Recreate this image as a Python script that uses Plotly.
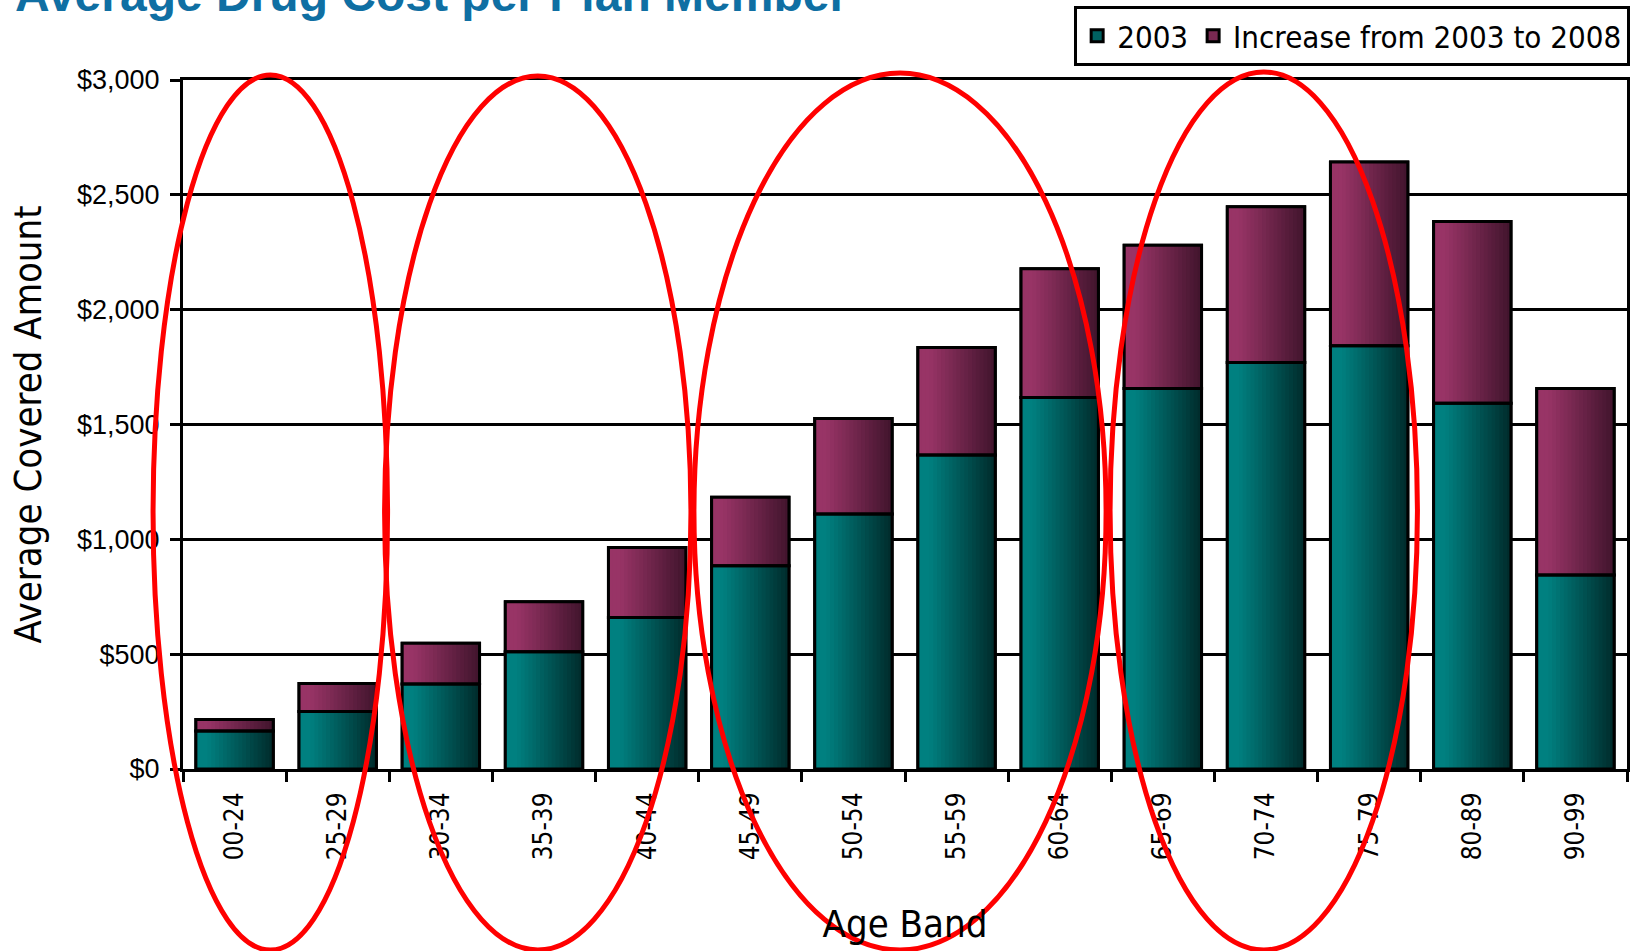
import plotly.graph_objects as go

# ---------------- data ----------------
age_bands = ["00-24", "25-29", "30-34", "35-39", "40-44", "45-49", "50-54",
             "55-59", "60-64", "65-69", "70-74", "75-79", "80-89", "90-99"]
cost_2003 = [165, 250, 370, 510, 660, 885, 1110, 1367, 1618, 1657, 1770, 1843, 1592, 845]
increase_2003_2008 = [50, 122, 178, 218, 304, 298, 416, 468, 560, 624, 678, 800, 792, 812]
series_names = ["2003", "Increase from 2003 to 2008"]
y_tick_values = [0, 500, 1000, 1500, 2000, 2500, 3000]
y_tick_labels = ["$0", "$500", "$1,000", "$1,500", "$2,000", "$2,500", "$3,000"]

title_text = "Average Drug Cost per Plan Member"
x_title = "Age Band"
y_title = "Average Covered Amount"

# ---------------- layout constants ----------------
W_PX, H_PX = 1632, 951
L, R, T, B = 183, 2, 80, 182
PLOT_W = W_PX - L - R
PLOT_H = H_PX - T - B

def px_x(px):
    return (px - L) / PLOT_W

def px_y(py):
    return (H_PX - B - py) / PLOT_H

TAHOMA = "DejaVu Sans Condensed, Noto Sans, DejaVu Sans, sans-serif"

BAR_W = 0.75
N_STRIPS = 20

def lerp(c1, c2, f):
    return tuple(round(a + (b - a) * f) for a, b in zip(c1, c2))

def grad_color(left, right, t):
    f = max(0.0, (t - 0.15) / 0.85)
    c = lerp(left, right, f)
    return "rgb(%d,%d,%d)" % c

series = [
    (series_names[0], cost_2003, [0] * len(cost_2003), (0, 128, 128), (0, 42, 42)),
    (series_names[1], increase_2003_2008, cost_2003, (152, 52, 102), (64, 20, 44)),
]

fig = go.Figure()

# filled base bars (legend entries)
for name, vals, base, cl, cr in series:
    fig.add_trace(go.Bar(
        x=age_bands, y=vals, base=base, width=BAR_W, name=name,
        legendgroup=name, showlegend=True,
        marker=dict(color=grad_color(cl, cr, 0.45), line=dict(color="black", width=3)),
        hoverinfo="skip",
    ))

# gradient strips
step = BAR_W / N_STRIPS
for name, vals, base, cl, cr in series:
    for k in range(N_STRIPS):
        off = -BAR_W / 2 + k * step
        w = min(step * 1.6, BAR_W / 2 - off)
        fig.add_trace(go.Bar(
            x=age_bands, y=vals, base=base, width=w, offset=off,
            legendgroup=name, showlegend=False,
            marker=dict(color=grad_color(cl, cr, (k + 0.5) / N_STRIPS), line=dict(width=0)),
            hoverinfo="skip",
        ))

# outlines on top
for name, vals, base, cl, cr in series:
    fig.add_trace(go.Bar(
        x=age_bands, y=vals, base=base, width=BAR_W,
        legendgroup=name, showlegend=False,
        marker=dict(color="rgba(0,0,0,0)", line=dict(color="black", width=3)),
        hoverinfo="skip",
    ))

# red ellipses (decorative highlights, pixel-placed)
ellipses_px = [(153, 75, 388, 950), (385, 76, 692, 950), (695, 73, 1108, 950), (1112, 72, 1420, 950)]
shapes = []
for x0, y0, x1, y1 in ellipses_px:
    shapes.append(dict(type="circle", xref="paper", yref="paper",
                       x0=px_x(x0), x1=px_x(x1), y0=px_y(y1), y1=px_y(y0),
                       line=dict(color="#ff0000", width=5), layer="above"))

fig.update_layout(
    width=W_PX, height=H_PX,
    margin=dict(l=L, r=R, t=T, b=B, pad=0),
    paper_bgcolor="white", plot_bgcolor="white",
    barmode="overlay",
    showlegend=True,
    title=dict(text="<b>" + title_text + "</b>", xref="container", yref="container",
               x=15 / W_PX, xanchor="left", y=1 - 11 / H_PX, yanchor="bottom",
               font=dict(family="Liberation Sans, Arial, sans-serif", size=48, color="#0f6fa3")),
    legend=dict(orientation="h", x=px_x(1076), y=px_y(6), xanchor="left", yanchor="top",
                bordercolor="black", borderwidth=3, bgcolor="white",
                font=dict(family=TAHOMA, size=31, color="black"), traceorder="normal"),
    shapes=shapes,
    xaxis=dict(
        type="category", tickson="boundaries", ticks="outside", ticklen=10, tickwidth=3,
        tickcolor="black", tickangle=-90, ticklabelstandoff=10,
        tickfont=dict(family=TAHOMA, size=26, color="black"),
        showline=True, linecolor="black", linewidth=3, mirror=True, showgrid=False,
        title=dict(text=x_title, font=dict(family=TAHOMA, size=38, color="black"), standoff=52),
    ),
    yaxis=dict(
        range=[0, 3000], tickmode="array", tickvals=y_tick_values, ticktext=y_tick_labels,
        ticks="outside", ticklen=10, tickwidth=3, tickcolor="black",
        ticklabelstandoff=5,
        tickfont=dict(family="Liberation Sans, Arial, sans-serif", size=27, color="black"),
        showline=True, linecolor="black", linewidth=3, mirror=True,
        showgrid=True, gridcolor="black", gridwidth=2.5, zeroline=False,
        title=dict(text=y_title, font=dict(family=TAHOMA, size=38, color="black"), standoff=24),
    ),
)

fig.write_html("out.html")
